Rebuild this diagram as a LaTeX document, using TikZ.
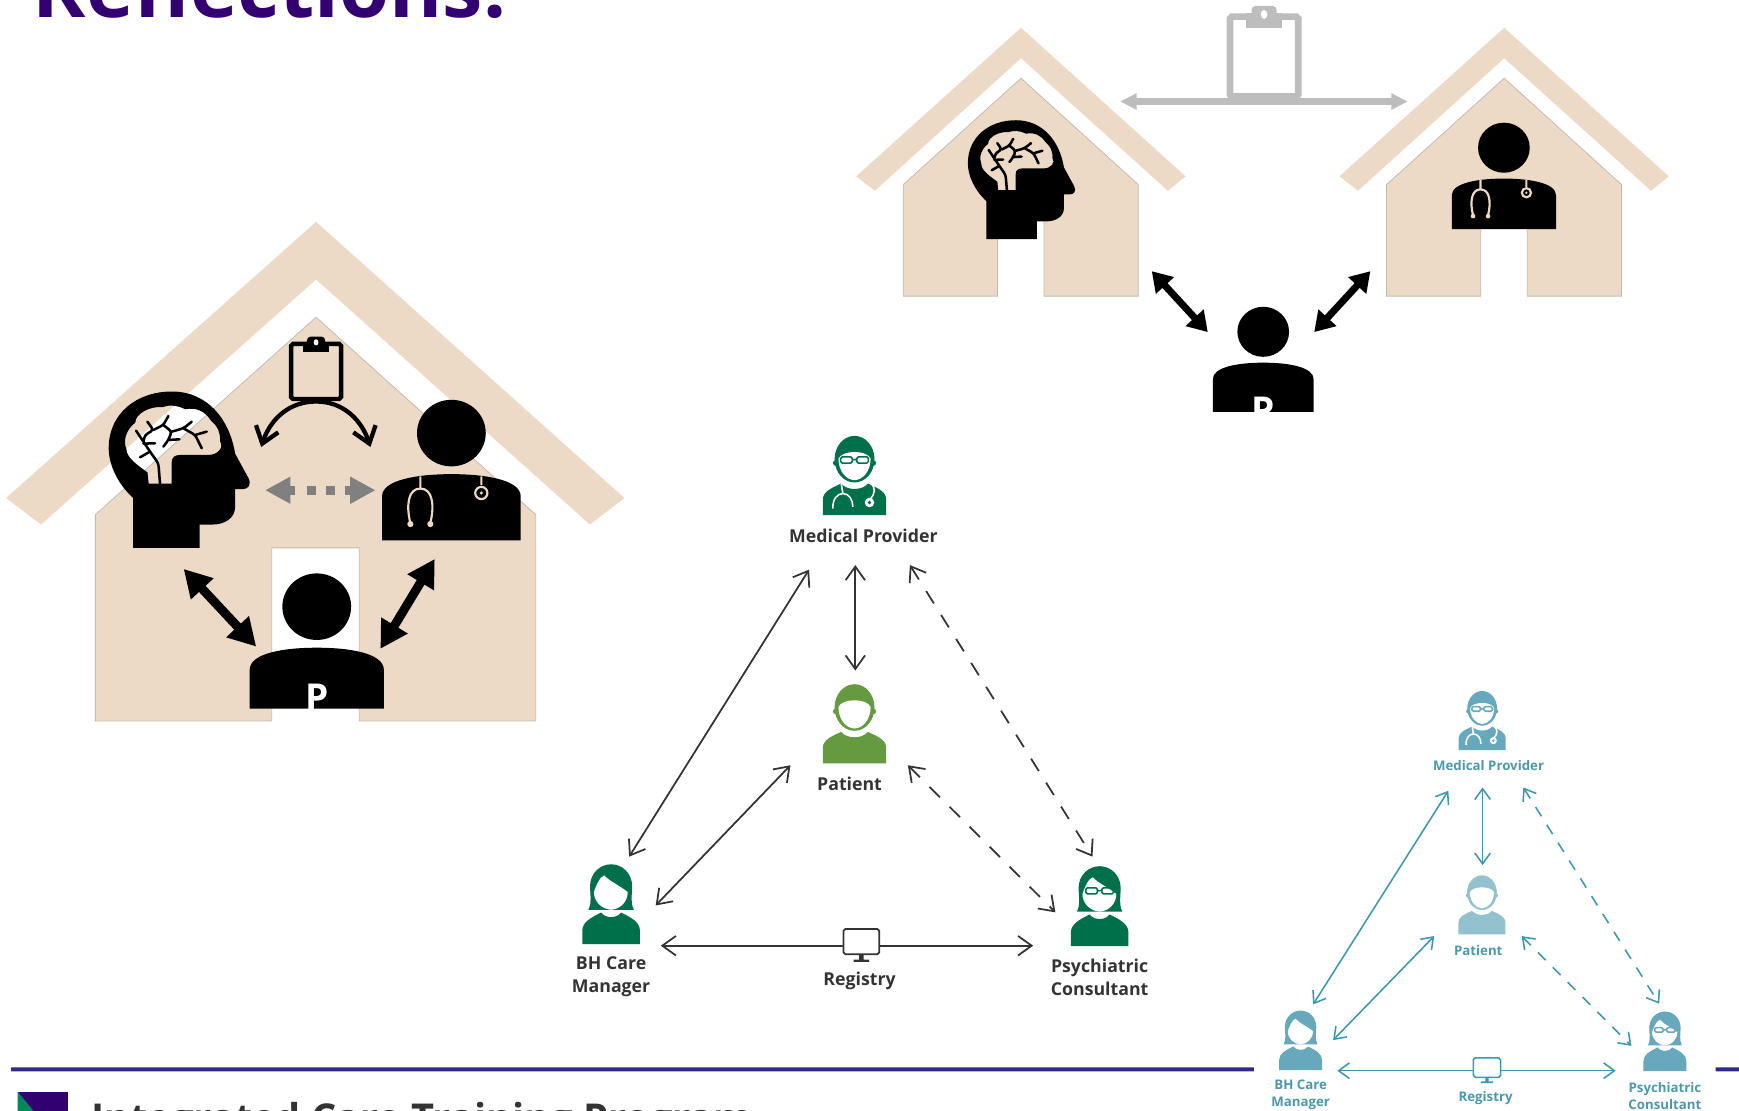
\documentclass[tikz,border=0pt]{standalone}
\usepackage{fontspec}
\setmainfont{Open Sans}
\usepackage{tikz}
\usetikzlibrary{arrows.meta}

\definecolor{roofbeige}{HTML}{ECDAC7}
\definecolor{wallline}{HTML}{C4BBB0}
\definecolor{titlepurple}{HTML}{330072}
\definecolor{rulenavy}{HTML}{2E2A85}
\definecolor{caregreen}{HTML}{00704A}
\definecolor{patgreen}{HTML}{659A41}
\definecolor{careblue}{HTML}{68A8BC}
\definecolor{patblue}{HTML}{93C1CD}
\definecolor{lineblue}{HTML}{3E97AC}
\definecolor{textblue}{HTML}{4C97AB}
\definecolor{clipgray}{HTML}{BDBDBD}
\definecolor{footgreen}{HTML}{00875A}

\tikzset{
    wallshape/.style={fill=roofbeige,draw=wallline,line width=.4pt},
    fatarrow/.style={{Triangle[length=14pt,width=15pt]}-{Triangle[length=14pt,width=15pt]},line width=4.6pt,line join=round},
    smallfat/.style={{Triangle[length=10pt,width=12pt]}-{Triangle[length=10pt,width=12pt]},line width=3.6pt,line join=round},
    carelink/.style={{Straight Barb[length=7pt,width=10pt]}-{Straight Barb[length=7pt,width=10pt]},line width=.9pt,draw=black!80},
    bluelink/.style={{Straight Barb[length=5.5pt,width=8pt]}-{Straight Barb[length=5.5pt,width=8pt]},line width=.8pt,draw=lineblue},
    carelabel/.style={font=\fontsize{9.1}{11.9}\selectfont\bfseries,text=black!80,align=center,inner sep=0pt},
    bluelabel/.style={font=\fontsize{6.8}{8.8}\selectfont\bfseries,text=textblue,align=center,inner sep=0pt},
    screenbox/.style={fill=white,rounded corners=1pt,inner sep=0pt},
    pics/headicon/.style={code={
        \fill[even odd rule] (-35,71) -- (-35,26) .. controls (-50,12) and (-57,-5) .. (-57,-19)
            .. controls (-57,-50) and (-32,-70) .. (0,-70) .. controls (32,-70) and (52,-45) .. (57,-14)
            -- (69,8) .. controls (72,14) and (69,18) .. (64,18) -- (57,18) -- (57,34)
            .. controls (57,44) and (48,50) .. (36,50) -- (25,50) -- (25,71) -- cycle
            (-21,13) -- (-0.2,13) -- (-0.2,-6) .. controls (-0.2,-11) and (3,-12.8) .. (7.3,-12.8)
            -- (32.7,-12.8) .. controls (42,-12.8) and (47,-20) .. (43.4,-25)
            .. controls (44,-34) and (40,-40) .. (35,-44) .. controls (30,-52) and (22,-56) .. (12,-54)
            .. controls (4,-58) and (-3,-58) .. (-8,-56) .. controls (-20,-57) and (-33,-50) .. (-33,-42)
            .. controls (-42,-35) and (-44,-25) .. (-41,-18) .. controls (-41,-10) and (-30,-3) .. (-22,3) -- cycle;
        \draw[line width=1.3pt,line cap=round,rounded corners=1.5pt]
            (-10.7,13) -- (-12.2,-5.2) -- (-19.7,-15.8) -- (-25.7,-24.8) -- (-28.7,-29.3) -- (-32.3,-34.7)
            (-28.7,-10.7) -- (-19.7,-15.8)
            (-25.7,-23) -- (-15.2,-23.3)
            (-25.7,-24.8) -- (-24.2,-30.8) -- (-16.7,-35.3) -- (-22.1,-42.8)
            (-16.7,-35.3) -- (-7.7,-39.8) -- (-3.2,-47.9)
            (-7.7,-39.8) -- (-.2,-33.8) -- (-3.2,-26.3) -- (-7.7,-20.3)
            (-3.2,-26.3) -- (6.7,-26.9)
            (-.2,-33.8) -- (10.4,-36.8) -- (17.9,-42.8)
            (10.4,-36.8) -- (21,-30.8) -- (26.9,-18.8)
            (21,-30.8) -- (31.4,-33.8);
    }},
    pics/busticon/.style 2 args={code={
        \fill (0,-37) ellipse [x radius=31,y radius=30];
        \fill (-#1,#2) -- (-#1,20) .. controls (-#1,5) and (-30,0) .. (0,0)
            .. controls (30,0) and (#1,5) .. (#1,20) -- (#1,#2) -- cycle;
    }},
    pics/stethbeige/.style={code={
        \draw[roofbeige,line width=1.1pt] (-28,2) -- (-28,13) (27,2) -- (27,10)
            (-37,44) .. controls (-41,28) and (-39,13) .. (-28,13) .. controls (-17,13) and (-15,28) .. (-19,44);
        \fill[roofbeige] (-37,45) circle [radius=2.8] (-19,45) circle [radius=2.8];
        \draw[roofbeige,line width=1.1pt] (27,17) circle [radius=5.5];
        \fill[roofbeige] (27,17) circle [radius=1.5];
    }},
    pics/clipicon/.style={code={
        \draw[rounded corners=1pt] (-30.8,3) rectangle (30.8,75);
        \fill (-16.3,0) rectangle (16.3,13);
        \fill[rounded corners=2pt] (-11.3,-6.6) rectangle (11.3,6);
        \fill[white] (0,1) ellipse [x radius=3,y radius=4];
    }},
    pics/maleicon/.style={code={
        \fill (0,-50.5) ellipse [x radius=18,y radius=21];
        \fill (-17,-47) circle [radius=2.5] (17,-47) circle [radius=2.5];
        \fill (-28.5,0) -- (-28.5,-14) .. controls (-28.5,-21) and (-22,-24) .. (-12,-28.5)
            .. controls (-7,-22) and (7,-22) .. (12,-28.5) .. controls (22,-24) and (28.5,-21) .. (28.5,-14)
            -- (28.5,0) -- cycle;
        \fill[white] (-14.5,-51) .. controls (-11,-59) and (11,-59) .. (14.5,-51)
            .. controls (14.5,-40) and (8,-32) .. (0,-31.5) .. controls (-8,-32) and (-14.5,-40) .. (-14.5,-51);
    }},
    pics/femaleicon/.style={code={
        \fill (-20.5,-31) .. controls (-17,-38) and (-19,-45) .. (-19,-52) .. controls (-19,-64) and (-10,-72) .. (0,-72)
            .. controls (10,-72) and (19,-64) .. (19,-52) .. controls (19,-45) and (17,-38) .. (20.5,-31) -- cycle;
        \fill (-26,0) -- (-26,-12) .. controls (-26,-20) and (-18,-24) .. (-9,-28.5)
            .. controls (-5,-23) and (5,-23) .. (9,-28.5) .. controls (18,-24) and (26,-20) .. (26,-12) -- (26,0) -- cycle;
        \fill[white] (-15.5,-47) .. controls (-13,-54) and (-10,-61) .. (-6,-62) .. controls (-2,-57) and (6,-54) .. (15,-47)
            .. controls (15,-38) and (8,-31.5) .. (0,-31) .. controls (-8,-31.5) and (-15.5,-38) .. (-15.5,-47);
    }},
    pics/glassicon/.style={code={
        \draw[line width=.8pt,rounded corners=.8pt] (-12.5,-52.5) rectangle (-2,-47) (2,-52.5) rectangle (12.5,-47) (-2,-50) -- (2,-50);
    }},
    pics/stethwhite/.style={code={
        \draw[white,line width=.8pt] (-12,-28.5) -- (-10.5,-19.5) (15,-28.5) .. controls (19,-25) and (19,-19) .. (13.5,-14)
            (-19.5,-6) .. controls (-20,-15) and (-15,-19.5) .. (-10.5,-19.5) .. controls (-5,-19.5) and (-1.5,-14) .. (-1.5,-7.5);
        \fill[white] (13.5,-11.4) circle [radius=4.3];
        \fill (13.5,-11.4) circle [radius=1.7];
    }},
}

\begin{document}
\begin{tikzpicture}[x=0.02cm,y=-0.02cm]
    \clip (0,0) rectangle (1568,1001.7);
    % title and footer
    \node[anchor=base west,inner sep=0pt,text=titlepurple,font=\fontsize{41.6}{48}\selectfont\bfseries] (title) at (29,16) {Reflections:};
    \fill[rulenavy] (10,962.5) rectangle (1130.5,966) (1547,962.5) rectangle (1568,966);
    \fill[titlepurple] (16,984.4) rectangle (61,1010);
    \fill[footgreen] (16,984.4) -- (16,1010) -- (37,1010) -- cycle;
    \node[anchor=base west,inner sep=0pt,text=black!80,font=\fontsize{20.4}{24}\selectfont\bfseries] (footer) at (82,1021) {Integrated Care Training Program};

    % house around everyone
    \fill[roofbeige] (285,200) -- (563,449) -- (532,473) -- (285,252) -- (37,473) -- (5.5,449) -- cycle;
    \draw[wallshape] (86,464) -- (285,286) -- (483,464) -- (483,650) -- (324,650) -- (324,494) -- (245,494) -- (245,650) -- (86,650) -- cycle;
    \pic at (155,423) {headicon};
    \pic at (407,427.5) {busticon={62.5}{59.8}};
    \pic at (407,427.5) {stethbeige};
    \pic at (285.6,584) {busticon={60.5}{55}};
    \node[anchor=base,inner sep=0pt,text=white,font=\fontsize{19}{22}\selectfont\bfseries] (patA) at (286,641) {P};
    \pic[color=black,line width=2.3pt,xscale=.73,yscale=.69] at (285,308) {clipicon};

    % two houses
    \foreach \dx in {0,435.7}{
        \fill[roofbeige,xshift=\dx*0.02cm] (920.6,25) -- (1069,159) -- (1053,172) -- (920.6,52.5) -- (788.8,172) -- (772,159) -- cycle;
        \draw[wallshape,xshift=\dx*0.02cm] (814.4,166.5) -- (920.6,70.5) -- (1026.4,166.5) -- (1026.4,267) -- (941.4,267) -- (941.4,195) -- (899.4,195) -- (899.4,267) -- (814.4,267) -- cycle;
    }
    \pic[scale=.76] at (916,161.6) {headicon};
    \pic[scale=.752] at (1356,161) {busticon={62.5}{60.5}};
    \pic[scale=.752] at (1356,161) {stethbeige};
    \begin{scope}
        \clip (1080,270) rectangle (1200,370.6);
        \pic[scale=.752] at (1139,327) {busticon={60.5}{70}};
        \node[anchor=base,inner sep=0pt,text=white,font=\fontsize{19}{22}\selectfont\bfseries] (patB) at (1139,382) {P};
    \end{scope}

    % free ends of the arrows
    \foreach \x/\y/\name in {165.6/513/hA,231/583/pA,392/504/dA,343/585/pB,239/442/hC,338.6/442/dC,
        285/362/clipA,235.5/403/hD,334/403/dD,
        1038.5/244.5/hE,1089/299.4/pE,1235.6/244.5/dE,1185/299.4/pF,1010/91.5/hG,1269.4/91.5/dG,
        567.3/772.4/bhA,729.5/513.6/medA,771.2/509.5/medB,771.2/604.6/patC,591.2/816.4/bhB,712.7/690/patD,
        818.6/690/patE,951.6/822.6/psyA,820.4/509.5/medC,985/772.4/psyB,595.8/852.7/bhC,931.6/852.7/psyC,
        1184/905.6/bhD,1305.9/713/medD,1336.8/710/medE,1336.8/780/patF,1202/937.8/bhE,1293.2/844/patG,
        1372/844/patH,1471/943/psyD,1373.5/710/medF,1496/905/psyE,1205.8/965.4/bhF,1456.8/965.4/psyF}{
        \coordinate (\name) at (\x,\y);
    }

    \foreach \from/\to in {hA/pA,dA/pB}{
        \draw[fatarrow] (\from) -- (\to);
    }
    \foreach \from/\to in {hE/pE,dE/pF}{
        \draw[smallfat] (\from) -- (\to);
    }
    \draw[{Triangle[length=13pt,width=13pt]}-{Triangle[length=13pt,width=13pt]},line width=4.5pt,draw=black!50,dash pattern=on 3.4pt off 6pt on 4.5pt off 5.1pt on 4.5pt off 5.1pt on 4pt off 40pt] (hC) -- (dC);
    \foreach \to/\outang/\inang in {hD/180/72,dD/0/108}{
        \draw[line width=2.2pt,-{Straight Barb[length=8pt,width=12pt]}] (clipA) to[out=\outang,in=\inang] (\to);
    }
    \draw[{Triangle[length=8.5pt,width=8pt]}-{Triangle[length=8.5pt,width=8pt]},line width=3.8pt,draw=clipgray] (hG) -- (dG);
    \pic[color=clipgray,line width=3.4pt] at (1139.8,12) {clipicon};

    % green team
    \pic[color=caregreen] at (770.5,464.5) {maleicon};
    \pic[color=caregreen] at (770.5,464.5) {glassicon};
    \pic[color=caregreen] at (770.5,464.5) {stethwhite};
    \pic[color=patgreen] at (770.5,688.4) {maleicon};
    \pic[color=caregreen] at (551,851.3) {femaleicon};
    \pic[color=caregreen] at (991.5,853) {femaleicon};
    \pic[color=caregreen] at (991.5,853) {glassicon};
    \node[carelabel] (medlabel) at (778.5,483) {Medical Provider};
    \node[carelabel] (patlabel) at (766,707) {Patient};
    \node[carelabel] (bhlabel) at (551,880.5) {BH Care\\Manager};
    \node[carelabel] (psylabel) at (991.5,881.5) {Psychiatric\\Consultant};
    \node[carelabel] (reglabel) at (775,884.5) {Registry};
    \foreach \from/\to in {bhA/medA,medB/patC,bhB/patD,bhC/psyC}{
        \draw[carelink] (\from) -- (\to);
    }
    \foreach \from/\to in {patE/psyA,medC/psyB}{
        \draw[carelink,dash pattern=on 7.5pt off 7pt] (\from) -- (\to);
    }
    \node[screenbox,draw=black!80,line width=.9pt,minimum width=18.4pt,minimum height=13pt] (screenA) at (776.7,849) {};
    \fill[black!80] (screenA.south) ++(-2,0) rectangle ++(4,5) ++(-9,-1) rectangle ++(14,2);

    % blue team
    \pic[color=careblue,scale=.745] at (1336.4,676.3) {maleicon};
    \pic[color=careblue,scale=.745] at (1336.4,676.3) {glassicon};
    \pic[color=careblue,scale=.745] at (1336.4,676.3) {stethwhite};
    \pic[color=patblue,scale=.745] at (1336.2,842.5) {maleicon};
    \pic[color=careblue,scale=.745] at (1172.7,964.8) {femaleicon};
    \pic[color=careblue,scale=.745] at (1501.2,965.7) {femaleicon};
    \pic[color=careblue,scale=.745] at (1501.2,965.7) {glassicon};
    \node[bluelabel] (medtext) at (1342.2,689.8) {Medical Provider};
    \node[bluelabel] (pattext) at (1332.9,857.2) {Patient};
    \node[bluelabel] (bhtext) at (1172.7,987) {BH Care\\Manager};
    \node[bluelabel] (psytext) at (1501.2,988) {Psychiatric\\Consultant};
    \node[bluelabel] (regtext) at (1339.5,990) {Registry};
    \foreach \from/\to in {bhD/medD,medE/patF,bhE/patG,bhF/psyF}{
        \draw[bluelink] (\from) -- (\to);
    }
    \foreach \from/\to in {patH/psyD,medF/psyE}{
        \draw[bluelink,dash pattern=on 5.6pt off 5.2pt] (\from) -- (\to);
    }
    \node[screenbox,draw=lineblue,line width=.8pt,minimum width=14pt,minimum height=10pt] (screenB) at (1340.7,962.6) {};
    \fill[lineblue] (screenB.south) ++(-1.5,0) rectangle ++(3,3.5) ++(-7,-.5) rectangle ++(11,1.6);
\end{tikzpicture}
\end{document}
